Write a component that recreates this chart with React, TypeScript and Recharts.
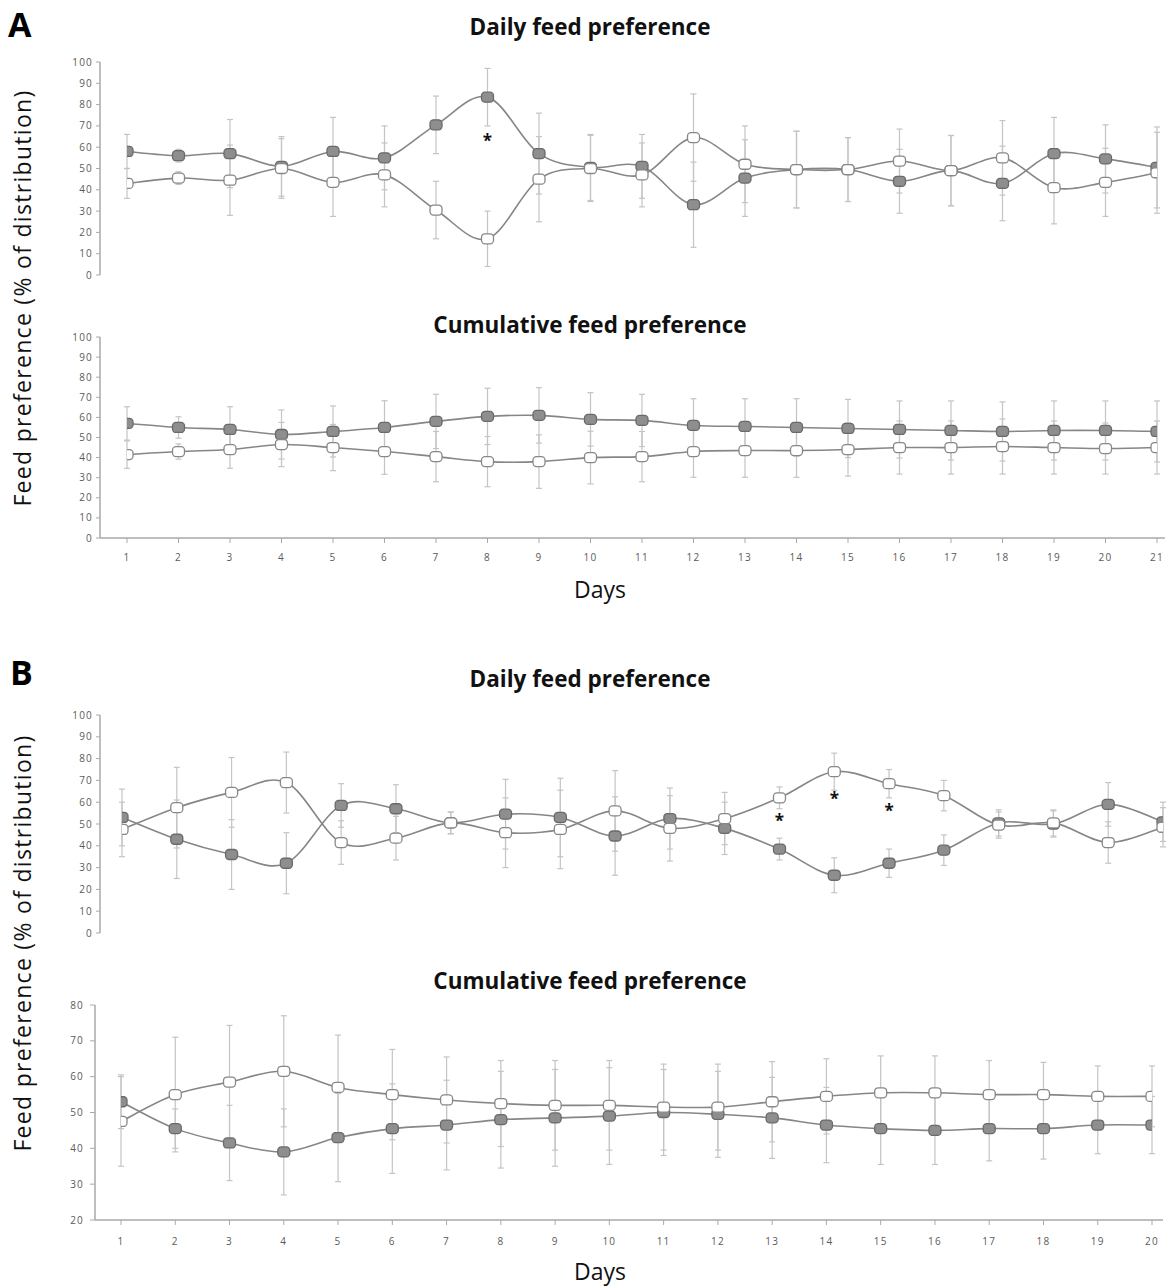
import React from "react";
import { ErrorBar, Line, LineChart, ReferenceDot, XAxis, YAxis } from "recharts";

const LINE = "#868686";
const DARK_FILL = "#8e8e8e";
const DARK_STROKE = "#6a6a6a";
const WHITE_STROKE = "#888888";
const ERR = "#c4c4c4";
const AXIS = "#a9a9a9";
const TICK_TEXT = "#5a5a5a";
const FONT = "'Open Sans', 'Noto Sans', sans-serif";

// Panel A: 21 days
const daysA = [1, 2, 3, 4, 5, 6, 7, 8, 9, 10, 11, 12, 13, 14, 15, 16, 17, 18, 19, 20, 21];
const aDailyDark = [58, 56, 57, 51, 58, 55, 70.5, 83.5, 57, 50.5, 51, 33, 45.5, 49.5, 49.5, 44, 49, 43, 57, 54.5, 50.5];
const aDailyWhite = [43, 45.5, 44.5, 50, 43.5, 47, 30.5, 17, 45, 50, 47, 64.5, 52, 49.5, 49.5, 53.5, 49, 55, 41, 43.5, 48];
const aDailyDarkErr = [8, 3, 16, 14, 16, 15, 13.5, 13.5, 19, 15.5, 15, 20, 18, 18, 15, 15, 16.5, 17.5, 17, 16, 19];
const aDailyWhiteErr = [7, 3, 16.5, 14, 16, 15, 13.5, 13, 20, 15.5, 15, 20.5, 18, 18, 15, 15, 16.5, 17.5, 17, 16, 19];

const aCumDark = [57, 55, 54, 51.5, 53, 55, 58, 60.5, 61, 59, 58.5, 56, 55.5, 55, 54.5, 54, 53.5, 53, 53.5, 53.5, 53];
const aCumWhite = [41.5, 43, 44, 46.5, 45, 43, 40.5, 38, 38, 40, 40.5, 43, 43.5, 43.5, 44, 45, 45, 45.5, 45, 44.5, 45];
const aCumDarkErr = [8.3, 5.3, 11.3, 12.2, 12.7, 13.3, 13.5, 14, 13.8, 13.3, 13, 13.3, 13.8, 14.3, 14.5, 14.2, 14.7, 14.7, 14.7, 14.7, 15.2];
const aCumWhiteErr = [6.8, 3.8, 9.3, 11, 11.5, 11.3, 12.5, 12.5, 13.3, 13.1, 12.5, 12.8, 13.3, 13.3, 13.2, 13.2, 13.2, 13.7, 13.2, 12.7, 13.2];

// Panel B: 20 days
const daysB = [1, 2, 3, 4, 5, 6, 7, 8, 9, 10, 11, 12, 13, 14, 15, 16, 17, 18, 19, 20];
const bDailyDark = [53, 43, 36, 32, 58.5, 57, 50.5, 54.5, 53, 44.5, 52.5, 48, 38.5, 26.5, 32, 38, 50.5, 50, 59, 51];
const bDailyWhite = [47.5, 57.5, 64.5, 69, 41.5, 43.5, 50.5, 46, 47.5, 56, 48, 52.5, 62, 74, 68.5, 63, 49.5, 50.5, 41.5, 48.5];
const bDailyDarkErr = [13, 18, 16, 14, 10, 11, 5, 16, 18, 18, 14, 12, 5, 8, 6.5, 7, 6, 6, 10, 9];
const bDailyWhiteErr = [12.5, 18.5, 16, 14, 10, 10, 5, 16, 18, 18.5, 15, 12, 5, 8.5, 6.5, 7, 6, 6, 9.5, 9];

const bCumDark = [53, 45.5, 41.5, 39, 43, 45.5, 46.5, 48, 48.5, 49, 50, 49.5, 48.5, 46.5, 45.5, 45, 45.5, 45.5, 46.5, 46.5];
const bCumWhite = [47.5, 55, 58.5, 61.5, 57, 55, 53.5, 52.5, 52, 52, 51.5, 51.5, 53, 54.5, 55.5, 55.5, 55, 55, 54.5, 54.5];
const bCumDarkErr = [7.5, 5.5, 10.5, 12, 12.3, 12.5, 12.5, 13.5, 13.5, 13.5, 12, 12, 11.3, 10.5, 10, 9.5, 9, 8.5, 8, 8];
const bCumWhiteErr = [12.5, 16, 15.8, 15.5, 14.6, 12.6, 12, 12, 12.5, 12.5, 12, 12, 11.2, 10.5, 10.3, 10.3, 9.5, 9, 8.5, 8.5];

const ticks0to100 = [0, 10, 20, 30, 40, 50, 60, 70, 80, 90, 100];
const ticks20to80 = [20, 30, 40, 50, 60, 70, 80];

const starsADaily = [{ day: 8, value: 64 }];
const starsBDaily = [
  { day: 13, value: 52.5 },
  { day: 14, value: 62.5 },
  { day: 15, value: 57 },
];

function toRows(days: number[], dark: number[], white: number[], darkErr: number[], whiteErr: number[]) {
  return days.map((day, i) => ({
    day,
    dark: dark[i],
    white: white[i],
    darkErr: darkErr[i],
    whiteErr: whiteErr[i],
  }));
}

// Excel-like smoothed line (Catmull-Rom through every point)
function excelSmooth(context: any) {
  let pts: number[][] = [];
  return {
    areaStart() {},
    areaEnd() {},
    lineStart() {
      pts = [];
    },
    point(x: number, y: number) {
      pts.push([+x, +y]);
    },
    lineEnd() {
      if (!pts.length) return;
      context.moveTo(pts[0][0], pts[0][1]);
      const t = 1 / 6;
      for (let i = 0; i < pts.length - 1; i++) {
        const p0 = pts[Math.max(0, i - 1)];
        const p1 = pts[i];
        const p2 = pts[i + 1];
        const p3 = pts[Math.min(pts.length - 1, i + 2)];
        context.bezierCurveTo(
          p1[0] + (p2[0] - p0[0]) * t,
          p1[1] + (p2[1] - p0[1]) * t,
          p2[0] - (p3[0] - p1[0]) * t,
          p2[1] - (p3[1] - p1[1]) * t,
          p2[0],
          p2[1],
        );
      }
    },
  };
}

const squareDot = (fill: string, stroke: string) => (props: any) => {
  const { cx, cy, index } = props;
  if (cx == null || cy == null) return <g key={`d-${index}`} />;
  return (
    <rect
      key={`d-${index}`}
      x={cx - 6}
      y={cy - 5}
      width={12}
      height={10}
      rx={3.5}
      fill={fill}
      stroke={stroke}
      strokeWidth={1.3}
    />
  );
};

const starShape = (props: any) => (
  <text x={props.cx} y={props.cy + 8} textAnchor="middle" fontSize={17} fontWeight={700} fill="#111" fontFamily={FONT}>
    *
  </text>
);

type ChartProps = {
  rows: ReturnType<typeof toRows>;
  top: number;
  height: number;
  margin: { top: number; right: number; bottom: number; left: number };
  yWidth: number;
  yDomain: [number, number];
  yTicks: number[];
  yTickSize: number;
  yTickMargin: number;
  xDomain: [number, number];
  xTicks: number[];
  xPadding: { left: number; right: number };
  showX: boolean;
  xTickMargin?: number;
  stars?: { day: number; value: number }[];
};

function FeedChart(p: ChartProps) {
  const tick = { fontSize: 10, fill: TICK_TEXT, fontFamily: FONT, letterSpacing: 1.2 };
  return (
    <div style={{ position: "absolute", left: 0, top: p.top }}>
      <LineChart width={1168} height={p.height} data={p.rows} margin={p.margin}>
        <XAxis
          type="number"
          dataKey="day"
          domain={p.xDomain}
          ticks={p.xTicks}
          interval={0}
          hide={!p.showX}
          padding={p.xPadding}
          height={30}
          allowDataOverflow
          tick={tick}
          tickSize={5}
          tickMargin={p.xTickMargin ?? 11}
          tickLine={{ stroke: AXIS }}
          axisLine={{ stroke: AXIS, strokeWidth: 1.5 }}
        />
        <YAxis
          type="number"
          domain={p.yDomain}
          ticks={p.yTicks}
          interval={0}
          width={p.yWidth}
          allowDataOverflow
          tick={tick}
          tickSize={p.yTickSize}
          tickMargin={p.yTickMargin}
          tickLine={{ stroke: AXIS }}
          axisLine={{ stroke: AXIS, strokeWidth: 1.5 }}
        />
        <Line
          dataKey="dark"
          type={excelSmooth as any}
          stroke={LINE}
          strokeWidth={1.6}
          dot={squareDot(DARK_FILL, DARK_STROKE)}
          activeDot={false}
          isAnimationActive={false}
        >
          <ErrorBar dataKey="darkErr" width={3} stroke={ERR} strokeWidth={1.2} direction="y" />
        </Line>
        <Line
          dataKey="white"
          type={excelSmooth as any}
          stroke={LINE}
          strokeWidth={1.6}
          dot={squareDot("#ffffff", WHITE_STROKE)}
          activeDot={false}
          isAnimationActive={false}
        >
          <ErrorBar dataKey="whiteErr" width={3} stroke={ERR} strokeWidth={1.2} direction="y" />
        </Line>
        {(p.stars ?? []).map((s) => (
          <ReferenceDot key={`s-${s.day}`} x={s.day} y={s.value} r={1} shape={starShape} />
        ))}
      </LineChart>
    </div>
  );
}

const titleStyle: React.CSSProperties = {
  position: "absolute",
  left: 0,
  width: 1180,
  textAlign: "center",
  fontFamily: FONT,
  fontWeight: 700,
  fontSize: 22.5,
  lineHeight: "26px",
  color: "#111",
};

const letterStyle: React.CSSProperties = {
  position: "absolute",
  fontFamily: FONT,
  fontWeight: 700,
  fontSize: 34,
  lineHeight: "40px",
  color: "#000",
};

const yLabelStyle = (cy: number): React.CSSProperties => ({
  position: "absolute",
  left: 22 - 260,
  top: cy - 15,
  width: 520,
  height: 30,
  lineHeight: "30px",
  textAlign: "center",
  transform: "rotate(-90deg)",
  fontFamily: FONT,
  fontSize: 23,
  letterSpacing: 1.3,
  color: "#111",
});

const daysStyle = (top: number): React.CSSProperties => ({
  position: "absolute",
  left: 0,
  width: 1200,
  top,
  textAlign: "center",
  fontFamily: FONT,
  fontSize: 23,
  lineHeight: "28px",
  color: "#111",
});

export default function App() {
  const aDaily = toRows(daysA, aDailyDark, aDailyWhite, aDailyDarkErr, aDailyWhiteErr);
  const aCum = toRows(daysA, aCumDark, aCumWhite, aCumDarkErr, aCumWhiteErr);
  const bDaily = toRows(daysB, bDailyDark, bDailyWhite, bDailyDarkErr, bDailyWhiteErr);
  const bCum = toRows(daysB, bCumDark, bCumWhite, bCumDarkErr, bCumWhiteErr);

  return (
    <div style={{ position: "relative", width: 1168, height: 1288, background: "#fff", overflow: "hidden" }}>
      <style>{"body{margin:0;}"}</style>

      <div style={{ ...letterStyle, left: 8, top: 4 }}>A</div>
      <div style={{ ...titleStyle, top: 14 }}>Daily feed preference</div>
      <FeedChart
        rows={aDaily}
        top={40}
        height={260}
        margin={{ top: 22, right: 3, bottom: 25, left: 0 }}
        yWidth={100}
        yDomain={[0, 100]}
        yTicks={ticks0to100}
        yTickSize={4}
        yTickMargin={3}
        xDomain={[1, 21]}
        xTicks={daysA}
        xPadding={{ left: 27, right: 8 }}
        showX={false}
        stars={starsADaily}
      />
      <div style={{ ...titleStyle, top: 312 }}>Cumulative feed preference</div>
      <FeedChart
        rows={aCum}
        top={310}
        height={260}
        margin={{ top: 27, right: 3, bottom: 2, left: 0 }}
        yWidth={100}
        yDomain={[0, 100]}
        yTicks={ticks0to100}
        yTickSize={4}
        yTickMargin={3}
        xDomain={[1, 21]}
        xTicks={daysA}
        xPadding={{ left: 27, right: 8 }}
        showX
        xTickMargin={11}
      />
      <div style={daysStyle(575)}>Days</div>
      <div style={yLabelStyle(298)}>Feed preference (% of distribution)</div>

      <div style={{ ...letterStyle, left: 10, top: 652 }}>B</div>
      <div style={{ ...titleStyle, top: 666 }}>Daily feed preference</div>
      <FeedChart
        rows={bDaily}
        top={690}
        height={270}
        margin={{ top: 25, right: 3, bottom: 27, left: 0 }}
        yWidth={100}
        yDomain={[0, 100]}
        yTicks={ticks0to100}
        yTickSize={4}
        yTickMargin={3}
        xDomain={[1, 20]}
        xTicks={daysB}
        xPadding={{ left: 22, right: 2 }}
        showX={false}
        stars={starsBDaily}
      />
      <div style={{ ...titleStyle, top: 968 }}>Cumulative feed preference</div>
      <FeedChart
        rows={bCum}
        top={990}
        height={265}
        margin={{ top: 15, right: 5, bottom: 5, left: 0 }}
        yWidth={95}
        yDomain={[20, 80]}
        yTicks={ticks20to80}
        yTickSize={5}
        yTickMargin={6}
        xDomain={[1, 20]}
        xTicks={daysB}
        xPadding={{ left: 26, right: 11 }}
        showX
        xTickMargin={13}
      />
      <div style={daysStyle(1257)}>Days</div>
      <div style={yLabelStyle(943)}>Feed preference (% of distribution)</div>
    </div>
  );
}
